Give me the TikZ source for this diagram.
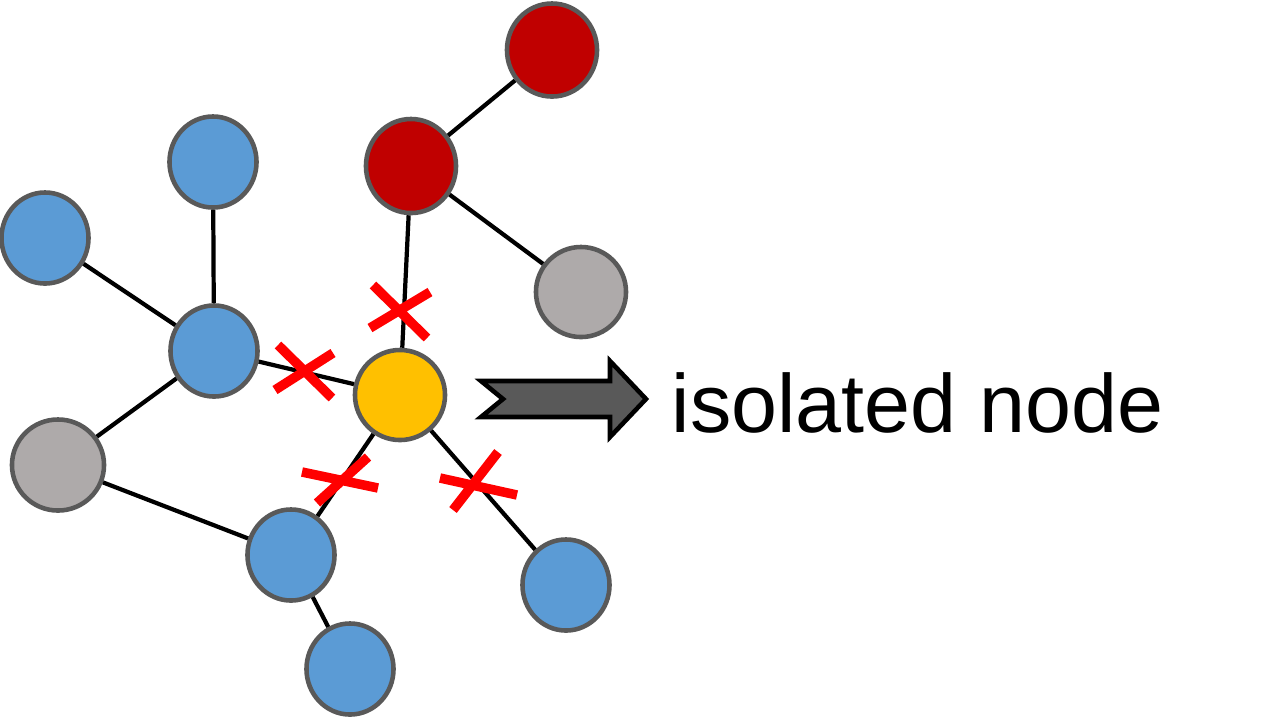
\documentclass[tikz,border=0pt]{standalone}
\usepackage{fontspec}
\setmainfont{Liberation Sans}
\usetikzlibrary{shapes.geometric}

\definecolor{nblue}{HTML}{5B9BD5}
\definecolor{nred}{HTML}{C00000}
\definecolor{ngray}{HTML}{AEAAAA}
\definecolor{nyellow}{HTML}{FFC000}
\definecolor{nrim}{HTML}{595959}

\tikzset{
  vertex/.style={ellipse, draw=nrim, line width=1.3pt, inner sep=0pt,
    minimum width=0.87cm, minimum height=0.91cm},
  link/.style={line width=1.2pt, black},
  cut/.style={line width=2.7pt, red, line cap=butt}
}

\begin{document}
\begin{tikzpicture}[x=0.01cm, y=-0.01cm]
  \useasboundingbox (0,0) rectangle (1269,717);
  % Knoten
  \node[vertex, fill=nred, minimum width=0.9cm, minimum height=0.93cm] (r1) at (552,50) {};
  \node[vertex, fill=nred, minimum width=0.9cm, minimum height=0.94cm] (r2) at (411,166) {};
  \node[vertex, fill=ngray, minimum width=0.9cm, minimum height=0.9cm] (g1) at (581,292) {};
  \node[vertex, fill=nblue] (b1) at (213,162) {};
  \node[vertex, fill=nblue] (b2) at (45,238) {};
  \node[vertex, fill=nblue] (b3) at (214,351) {};
  \node[vertex, fill=nyellow, minimum width=0.9cm, minimum height=0.9cm] (iso) at (400,395) {};
  \node[vertex, fill=ngray, minimum width=0.92cm, minimum height=0.91cm] (g2) at (58,465) {};
  \node[vertex, fill=nblue] (b4) at (291,555) {};
  \node[vertex, fill=nblue] (b5) at (350,669) {};
  \node[vertex, fill=nblue] (b6) at (566,585) {};
  % Kanten
  \draw[link] (r1) -- (r2);
  \draw[link] (r2) -- (g1);
  \draw[link] (r2) -- (iso);
  \draw[link] (b1) -- (b3);
  \draw[link] (b2) -- (b3);
  \draw[link] (b3) -- (iso);
  \draw[link] (b3) -- (g2);
  \draw[link] (g2) -- (b4);
  \draw[link] (b4) -- (iso);
  \draw[link] (b4) -- (b5);
  \draw[link] (iso) -- (b6);
  % Kreuze
  \draw[cut] (275,390) -- (333,353) (278,345) -- (332,398);
  \draw[cut] (370,328) -- (430,292) (373,285) -- (427,338);
  \draw[cut] (302,472) -- (378,488) (317,503) -- (368,457);
  \draw[cut] (440,478) -- (517,495) (453,510) -- (498,452);
  % Pfeil
  \draw[line width=1.3pt, fill=nrim, line join=miter]
    (481,381) -- (610,381) -- (610,361) -- (646,399) -- (610,437)
    -- (610,417) -- (481,417) -- (503,399) -- cycle;
  \node[anchor=base west, inner sep=0pt, font=\fontsize{23.5pt}{28pt}\selectfont] (lbl) at (671,432) {isolated node};
\end{tikzpicture}
\end{document}
